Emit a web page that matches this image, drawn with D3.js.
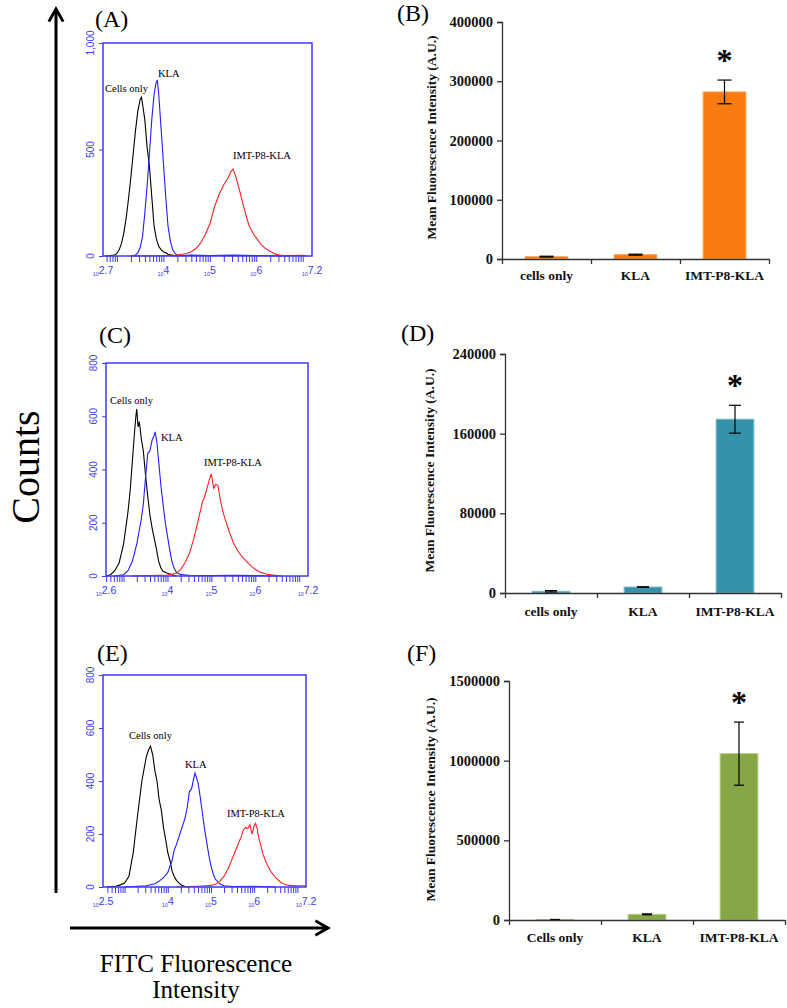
<!DOCTYPE html>
<html><head><meta charset="utf-8">
<script src="https://cdn.jsdelivr.net/npm/d3@7"></script>
<style>body{margin:0;background:#fff}svg{display:block}</style>
</head><body>
<svg id="c" width="787" height="1008"></svg>
<script>
// ---------------- DATA ----------------
// Histogram curves: [log10 fluorescence, counts]
const histA_cells = [[2.75,0],[2.85,2],[2.95,5],[3.0,12],[3.05,30],[3.1,60],[3.15,110],[3.2,180],[3.25,270],[3.3,370],[3.35,480],[3.4,590],[3.45,680],[3.5,735],[3.53,745],[3.56,700],[3.6,640],[3.65,510],[3.7,420],[3.75,280],[3.8,140],[3.85,80],[3.9,45],[3.95,30],[4.0,20],[4.05,15],[4.1,8],[4.2,3],[4.3,0]];
const histA_kla = [[3.3,0],[3.4,5],[3.45,15],[3.5,40],[3.55,90],[3.6,200],[3.65,330],[3.7,480],[3.75,640],[3.8,760],[3.84,810],[3.87,826],[3.9,760],[3.95,600],[4.0,440],[4.05,280],[4.1,140],[4.15,70],[4.2,30],[4.25,12],[4.3,5],[4.4,2],[4.6,4],[5.0,2],[5.5,4],[6.0,2],[6.7,0]];
const histA_imt = [[3.3,0],[4.0,2],[4.3,5],[4.5,12],[4.6,20],[4.7,35],[4.8,60],[4.9,100],[5.0,150],[5.1,230],[5.2,290],[5.3,335],[5.4,370],[5.45,395],[5.5,408],[5.55,380],[5.6,340],[5.65,300],[5.7,255],[5.75,215],[5.8,175],[5.85,140],[5.9,120],[5.95,100],[6.0,85],[6.05,70],[6.1,55],[6.2,35],[6.3,22],[6.4,10],[6.5,5],[6.6,2],[7.0,3],[7.1,0]];

const histC_cells = [[2.62,0],[2.7,5],[2.8,20],[2.9,50],[3.0,120],[3.1,240],[3.15,320],[3.2,430],[3.25,540],[3.28,600],[3.3,627],[3.33,560],[3.36,580],[3.4,520],[3.45,470],[3.5,380],[3.55,300],[3.6,230],[3.65,180],[3.7,140],[3.75,100],[3.8,55],[3.85,30],[3.9,18],[4.0,10],[4.1,5],[4.2,0]];
const histC_kla = [[2.8,0],[3.0,5],[3.1,20],[3.2,55],[3.3,120],[3.4,210],[3.45,270],[3.5,370],[3.55,460],[3.6,470],[3.65,510],[3.7,530],[3.72,541],[3.76,500],[3.8,430],[3.85,340],[3.9,270],[3.95,200],[4.0,150],[4.05,100],[4.1,55],[4.15,30],[4.2,15],[4.3,5],[4.5,3],[5.0,2],[5.5,3],[6.5,0]];
const histC_imt = [[3.2,0],[3.6,2],[4.0,4],[4.2,10],[4.3,25],[4.4,50],[4.5,85],[4.6,140],[4.7,210],[4.8,280],[4.85,300],[4.9,330],[4.95,360],[5.0,383],[5.05,330],[5.1,345],[5.15,340],[5.2,290],[5.25,250],[5.3,220],[5.35,195],[5.4,170],[5.5,125],[5.6,95],[5.7,72],[5.8,55],[5.9,38],[6.0,25],[6.1,15],[6.2,10],[6.3,5],[6.5,2],[6.6,0]];

const histE_cells = [[2.6,0],[2.8,3],[2.9,8],[3.0,15],[3.1,40],[3.2,130],[3.3,270],[3.4,400],[3.5,490],[3.55,515],[3.6,532],[3.65,500],[3.7,440],[3.75,400],[3.8,330],[3.85,290],[3.9,225],[3.95,180],[4.0,130],[4.05,100],[4.1,60],[4.15,40],[4.2,25],[4.3,8],[4.4,2],[4.5,0]];
const histE_kla = [[3.0,0],[3.3,3],[3.5,5],[3.7,12],[3.8,22],[3.9,35],[4.0,55],[4.1,100],[4.15,140],[4.2,160],[4.3,210],[4.4,260],[4.45,300],[4.5,360],[4.55,370],[4.6,410],[4.63,430],[4.67,410],[4.7,395],[4.75,340],[4.8,280],[4.85,220],[4.9,170],[4.95,120],[5.0,80],[5.05,50],[5.1,30],[5.2,12],[5.3,5],[5.5,2],[6.0,3],[6.5,0]];
const histE_imt = [[4.2,0],[4.5,2],[4.8,4],[5.0,6],[5.1,10],[5.2,20],[5.3,40],[5.4,70],[5.5,110],[5.6,150],[5.7,190],[5.75,215],[5.8,225],[5.85,220],[5.9,235],[5.95,200],[6.0,230],[6.03,240],[6.07,220],[6.1,190],[6.15,160],[6.2,125],[6.3,85],[6.4,55],[6.5,35],[6.6,20],[6.7,10],[6.8,6],[7.0,5],[7.2,5]];

const histLabels = ["Cells only","KLA","IMT-P8-KLA"];
const histXTicksA = ["2.7","4","5","6","7.2"];
const histXTicksC = ["2.6","4","5","6","7.2"];
const histXTicksE = ["2.5","4","5","6","7.2"];
const histYTicksA = [0,500,1000];
const histYTickLabelsA = ["0","500","1,000"];
const histYTicksCE = [0,200,400,600,800];

// Bar charts
const barCatsB = ["cells only","KLA","IMT-P8-KLA"];
const barValsB = [4000, 7300, 282000];
const barErrB = [700, 900, 20000];
const barTicksB = [0,100000,200000,300000,400000];

const barCatsD = ["cells only","KLA","IMT-P8-KLA"];
const barValsD = [1700, 6000, 174500];
const barErrD = [700, 300, 14000];
const barTicksD = [0,80000,160000,240000];

const barCatsF = ["Cells only","KLA","IMT-P8-KLA"];
const barValsF = [3000, 35500, 1044000];
const barErrF = [500, 3000, 198000];
const barTicksF = [0,500000,1000000,1500000];

// ---------------- DRAWING ----------------
const svg = d3.select("#c");
const SERIF = "'Liberation Serif','Times New Roman',serif";
const SANS = "'Liberation Sans',Arial,sans-serif";
const BLUE = "#3b3bf5";
const curveColors = ["#000000","#1f1fff","#ff2020"];

function histPanel(cfg){
  const g = svg.append("g");
  const x = d3.scaleLog().domain([Math.pow(10,cfg.xExp[0]), Math.pow(10,cfg.xExp[1])]).range([cfg.left, cfg.right]);
  const y = d3.scaleLinear().domain([0, cfg.yMax]).range([cfg.bottom, cfg.top]);
  const xa = d3.axisBottom(x).tickValues(x.ticks(10)).tickSize(6).tickFormat("");
  const ax = g.append("g").attr("transform",`translate(0,${cfg.bottom})`).call(xa);
  ax.select(".domain").remove();
  ax.selectAll("line").attr("stroke",BLUE).attr("stroke-width",1);
  const labelExps = cfg.xLabels.map(Number);
  g.selectAll("text.xl").data(cfg.xLabels).join("text").attr("class","xl")
    .attr("x",(d,i)=>x(Math.pow(10,labelExps[i])))
    .attr("y",cfg.bottom+18)
    .attr("text-anchor","middle").attr("fill",BLUE).attr("font-family",SANS)
    .each(function(d){
      const t=d3.select(this);
      t.append("tspan").attr("font-size",5.5).attr("dy",2).text("10");
      t.append("tspan").attr("font-size",10.5).attr("dy",-2).text(d);
    });
  const ya = d3.axisLeft(y).tickValues(cfg.yTicks).tickSize(4).tickFormat("");
  const ay = g.append("g").attr("transform",`translate(${cfg.left},0)`).call(ya);
  ay.select(".domain").remove();
  ay.selectAll("line").attr("stroke",BLUE);
  g.selectAll("text.yl").data(cfg.yTicks).join("text").attr("class","yl")
    .attr("transform",d=>`translate(${cfg.left-9},${y(d)}) rotate(-90)`)
    .attr("text-anchor","middle").attr("fill",BLUE).attr("font-family",SANS).attr("font-size",10)
    .text((d,i)=>cfg.yTickLabels[i]);
  const line = d3.line().x(d=>x(Math.pow(10,d[0]))).y(d=>y(d[1]));
  g.selectAll("path.curve").data(cfg.curves).join("path").attr("class","curve")
    .attr("d",d=>line(d)).attr("fill","none")
    .attr("stroke",(d,i)=>curveColors[i]).attr("stroke-width",1.1);
  g.append("rect").attr("x",cfg.left).attr("y",cfg.top)
    .attr("width",cfg.right-cfg.left).attr("height",cfg.bottom-cfg.top)
    .attr("fill","none").attr("stroke",BLUE).attr("stroke-width",1.5);
  g.selectAll("text.cl").data(histLabels).join("text").attr("class","cl")
    .attr("x",(d,i)=>cfg.labelPos[i][0]).attr("y",(d,i)=>cfg.labelPos[i][1])
    .attr("font-family",SERIF).attr("font-size",10.5).attr("fill","#000").text(d=>d);
  g.append("text").attr("x",cfg.tag[1]).attr("y",cfg.tag[2]).attr("font-family",SERIF)
    .attr("font-size",24).text(cfg.tag[0]);
}

histPanel({left:103,right:312,top:43,bottom:256,xExp:[2.7,7.2],yMax:1000,
  yTicks:histYTicksA,yTickLabels:histYTickLabelsA,xLabels:histXTicksA,
  curves:[histA_cells,histA_kla,histA_imt],
  labelPos:[[105,92],[158,77],[233,159]],tag:["(A)",95,27]});
histPanel({left:106,right:308,top:363,bottom:576,xExp:[2.6,7.2],yMax:800,
  yTicks:histYTicksCE,yTickLabels:histYTicksCE.map(String),xLabels:histXTicksC,
  curves:[histC_cells,histC_kla,histC_imt],
  labelPos:[[110,404],[161,441],[204,466]],tag:["(C)",99,343]});
histPanel({left:103,right:306,top:675,bottom:887,xExp:[2.5,7.2],yMax:800,
  yTicks:histYTicksCE,yTickLabels:histYTicksCE.map(String),xLabels:histXTicksE,
  curves:[histE_cells,histE_kla,histE_imt],
  labelPos:[[129,739],[185,768],[227,817]],tag:["(E)",97,661]});

function barPanel(cfg){
  const g = svg.append("g");
  const x = d3.scaleBand().domain(cfg.cats).range([cfg.left,cfg.right]).padding(0);
  const y = d3.scaleLinear().domain([0,cfg.yMax]).range([cfg.bottom,cfg.top]);
  const bw = x.bandwidth()*cfg.barFrac;
  g.selectAll("rect.bar").data(cfg.vals).join("rect").attr("class","bar")
    .attr("x",(d,i)=>x(cfg.cats[i])+x.bandwidth()/2-bw/2)
    .attr("width",bw)
    .attr("y",d=>y(d)).attr("height",d=>y(0)-y(d))
    .attr("fill",cfg.color).attr("stroke",cfg.edge).attr("stroke-width",1);
  const eb = g.selectAll("g.eb").data(cfg.vals).join("g").attr("class","eb");
  const cx = (i)=>x(cfg.cats[i])+x.bandwidth()/2;
  eb.append("line").attr("x1",(d,i)=>cx(i)).attr("x2",(d,i)=>cx(i))
    .attr("y1",(d,i)=>y(d+cfg.err[i])).attr("y2",(d,i)=>y(Math.max(0,d-cfg.err[i])))
    .attr("stroke","#000").attr("stroke-width",1.2);
  [1,-1].forEach(s=>{
    eb.append("line").attr("x1",(d,i)=>cx(i)-cfg.cap).attr("x2",(d,i)=>cx(i)+cfg.cap)
      .attr("y1",(d,i)=>y(Math.max(0,d+s*cfg.err[i]))).attr("y2",(d,i)=>y(Math.max(0,d+s*cfg.err[i])))
      .attr("stroke","#000").attr("stroke-width",1.2);
  });
  const top = cfg.vals.length-1;
  g.append("text").attr("x",cx(top)).attr("y",y(cfg.vals[top]+cfg.err[top])-24+15)
    .attr("text-anchor","middle").attr("font-family",SERIF).attr("font-weight","bold")
    .attr("font-size",32).text("*");
  const ya = d3.axisLeft(y).tickValues(cfg.ticks).tickSize(5).tickPadding(4).tickFormat(d3.format("d"));
  const ay = g.append("g").attr("transform",`translate(${cfg.left},0)`).call(ya);
  ay.select(".domain").attr("stroke","#333").attr("stroke-width",1.3);
  ay.selectAll("line").attr("stroke","#333").attr("stroke-width",1.3);
  ay.selectAll("text").attr("font-family",SERIF).attr("font-weight","bold").attr("font-size",14.5).attr("fill","#111");
  const xb = d3.scaleLinear().domain([0,cfg.cats.length]).range([cfg.left,cfg.right]);
  const xa = d3.axisBottom(xb).tickValues(d3.range(cfg.cats.length+1)).tickSize(5).tickSizeOuter(0).tickFormat("");
  const axx = g.append("g").attr("transform",`translate(0,${cfg.bottom})`).call(xa);
  axx.select(".domain").attr("stroke","#333").attr("stroke-width",1.3);
  axx.selectAll("line").attr("stroke","#333").attr("stroke-width",1.3);
  g.selectAll("text.cat").data(cfg.cats).join("text").attr("class","cat")
    .attr("x",d=>x(d)+x.bandwidth()/2).attr("y",cfg.bottom+cfg.catDy)
    .attr("text-anchor","middle").attr("font-family",SERIF).attr("font-weight","bold")
    .attr("font-size",13.5).attr("fill","#111").text(d=>d);
  g.append("text").attr("transform",`translate(${cfg.titleX},${(cfg.top+cfg.bottom)/2+cfg.titleDy}) rotate(-90)`)
    .attr("text-anchor","middle").attr("font-family",SERIF).attr("font-weight","bold")
    .attr("font-size",13.5).attr("fill","#111").text("Mean Fluorescence Intensity (A.U.)");
  g.append("text").attr("x",cfg.tag[1]).attr("y",cfg.tag[2]).attr("font-family",SERIF)
    .attr("font-size",24).text(cfg.tag[0]);
}

barPanel({cats:barCatsB,vals:barValsB,err:barErrB,ticks:barTicksB,yMax:400000,
  left:502,right:769,top:22,bottom:259,barFrac:0.48,cap:7,color:"#f87a10",edge:"#fba45c",
  catDy:21,titleX:436,titleDy:-3,tag:["(B)",397,21]});
barPanel({cats:barCatsD,vals:barValsD,err:barErrD,ticks:barTicksD,yMax:240000,
  left:505,right:781,top:354,bottom:593,barFrac:0.41,cap:6,color:"#3592aa",edge:"#7ab9cb",
  catDy:23,titleX:434,titleDy:-3,tag:["(D)",401,341]});
barPanel({cats:barCatsF,vals:barValsF,err:barErrF,ticks:barTicksF,yMax:1500000,
  left:509,right:785,top:681,bottom:920,barFrac:0.41,cap:5,color:"#87a646",edge:"#b3cb85",
  catDy:22,titleX:435,titleDy:-1,tag:["(F)",407,661]});

const defs = svg.append("defs");
defs.append("marker").attr("id","ah").attr("viewBox","0 0 10 10").attr("refX",8).attr("refY",5)
  .attr("markerWidth",6).attr("markerHeight",6).attr("orient","auto")
  .append("path").attr("d","M1,1 L8,5 L1,9").attr("fill","none").attr("stroke","#000").attr("stroke-width",1.6);
svg.append("line").attr("x1",56).attr("y1",893).attr("x2",56).attr("y2",9)
  .attr("stroke","#000").attr("stroke-width",3).attr("marker-end","url(#ah)");
svg.append("line").attr("x1",70).attr("y1",928).attr("x2",328).attr("y2",928)
  .attr("stroke","#000").attr("stroke-width",3).attr("marker-end","url(#ah)");
svg.append("text").attr("transform","translate(39,467) rotate(-90)").attr("text-anchor","middle")
  .attr("font-family",SERIF).attr("font-size",40).text("Counts");
svg.append("text").attr("x",196).attr("y",972).attr("text-anchor","middle")
  .attr("font-family",SERIF).attr("font-size",25).text("FITC Fluorescence");
svg.append("text").attr("x",196).attr("y",998).attr("text-anchor","middle")
  .attr("font-family",SERIF).attr("font-size",25).text("Intensity");
</script>
</body></html>
